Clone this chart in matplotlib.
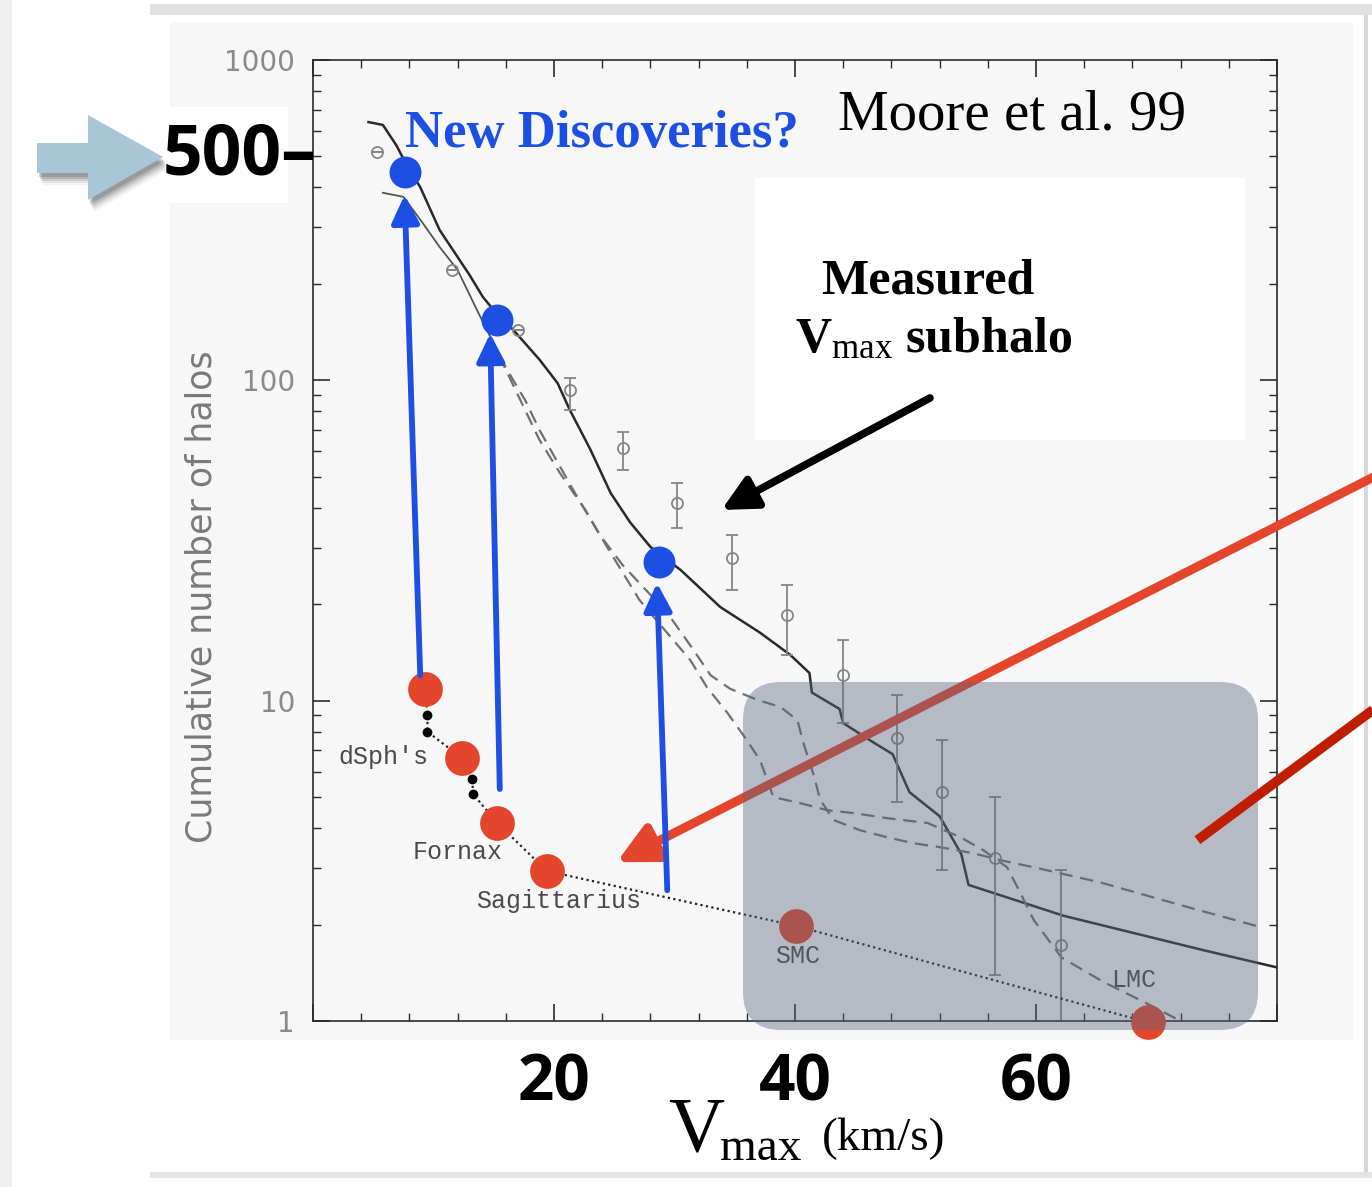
import matplotlib
matplotlib.use("Agg")
import matplotlib.pyplot as plt
from matplotlib.patches import FancyBboxPatch, Rectangle, Polygon
from matplotlib.transforms import IdentityTransform, blended_transform_factory
from matplotlib.ticker import MultipleLocator, FixedLocator, NullFormatter, LogLocator

# values (Vmax in km/s, cumulative number of halos)
# cluster halo curve (solid)
clus_v = [4.6, 5.8, 6.9, 8.0, 8.9, 10.5, 13.0, 14.1, 15.5, 16.6, 18.8, 20.3, 21.3, 23.0, 24.7,
          26.3, 28.0, 30.5, 33.8, 37.1, 39.6, 41.2, 41.4, 43.7, 44.0, 46.6, 48.1, 49.5, 52.0,
          53.8, 54.4, 62.3, 74.0, 80.0]
clus_n = [640, 627, 543, 453, 401, 295, 213, 182, 157, 144, 116, 98, 81, 61, 44.5,
          36.1, 30.2, 25.6, 19.6, 16.3, 13.9, 12.2, 10.6, 9.42, 8.51, 7.37, 6.81, 5.18, 4.36,
          3.32, 2.66, 2.13, 1.66, 1.47]

# galaxy halos: common top part, then two dashed runs
gal_top_v = [5.8, 7.5, 9.1, 10.5, 12.0, 13.6, 14.7]
gal_top_n = [385, 374, 310, 261, 221, 166, 137]

gal1_v = [14.7, 16.1, 17.6, 18.8, 21.6, 23.8, 25.7, 28.0, 29.4, 31.3, 33.0, 34.6, 36.9, 38.8,
          40.2, 40.7, 41.5, 42.1, 43.2, 45.4, 47.6, 49.8, 52.0, 54.8, 57.0, 59.8, 65.3, 72.0, 78.3]
gal1_n = [137, 108, 86.8, 69.9, 45.4, 32.9, 26.5, 21.4, 18.8, 14.9, 12.0, 10.9, 10.05, 9.55,
          8.70, 7.37, 5.94, 4.90, 4.24, 3.94, 3.75, 3.59, 3.49, 3.34, 3.18, 3.02, 2.71, 2.30, 1.98]

gal2_v = [14.7, 16.1, 17.6, 18.8, 20.5, 22.6, 24.4, 27.1, 29.2, 31.3, 32.7, 34.4, 36.0, 37.1,
          37.7, 38.2, 40.4, 42.7, 44.8, 47.6, 51.0, 53.7, 55.6, 57.6, 58.7, 59.8, 62.1, 65.5,
          69.5, 72.0]
gal2_n = [137, 106, 80.8, 65.1, 51.3, 39.4, 30.2, 20.6, 16.6, 13.4, 11.0, 9.15, 7.53, 6.52,
          5.65, 5.00, 4.79, 4.55, 4.46, 4.30, 4.15, 3.75, 3.42, 3.02, 2.51, 2.07, 1.58, 1.33,
          1.12, 1.00]

# observed points with error bars
obs_v = [5.3, 11.5, 17.0, 21.3, 25.7, 30.2, 34.8, 39.3, 44.0, 48.5, 52.2, 56.6, 62.1]
obs_n = [516, 221, 144, 93.3, 61.5, 41.4, 27.9, 18.5, 12.0, 7.64, 5.19, 3.23, 1.73]
obs_hi = [516, 221, 144, 101.6, 69.0, 47.8, 32.9, 23.0, 15.5, 10.4, 7.53, 5.0, 2.96]
obs_lo = [516, 221, 144, 80.7, 52.5, 34.6, 22.2, 13.9, 8.5, 4.82, 2.96, 1.39, 0.9]

# Milky Way satellites
sat_v = [9.3, 9.5, 9.5, 12.4, 13.2, 13.3, 15.3, 19.4, 40.1, 69.3]
sat_n = [10.9, 9.0, 8.0, 6.6, 5.7, 5.1, 4.15, 2.94, 1.98, 0.99]
sat_big = [True, False, False, True, False, False, True, True, True, True]

sat_names = ["dSph's", "Fornax", "Sagittarius", "SMC", "LMC"]
name_v = [5.8, 12.0, 20.4, 40.2, 68.1]
name_n = [6.67, 3.37, 2.37, 1.59, 1.34]

# "new discoveries" points and the arrows pointing to them
new_v = [7.6, 15.3, 28.7]
new_n = [447, 154, 27.1]
tail_v = [8.9, 15.5, 29.4]
tail_n = [12.0, 5.3, 2.56]
tip_v = [7.6, 14.7, 28.55]
tip_n = [379, 140, 23.3]

# other annotation arrows (data coords)
black_arrow = [(51.2, 88.1), (33.9, 39.4)]
red_arrow = [(88.5, 51.0), (25.2, 3.13)]
red_line = [(88.5, 9.69), (73.4, 3.67)]

W, H = 1372, 1187
blue = "#1d4fe3"
red = "#e4452d"


def pix(x, y):
    return (x, H - y)


def fx(x):
    return x / W


def fy(y):
    return 1 - y / H


plt.rcParams['mathtext.fontset'] = 'custom'
plt.rcParams['mathtext.rm'] = 'Liberation Serif'
plt.rcParams['mathtext.bf'] = 'Liberation Serif:bold'
plt.rcParams['mathtext.it'] = 'Liberation Serif:italic'

fig = plt.figure(figsize=(W / 100, H / 100), dpi=100, facecolor='white')

# slide background pieces
idt = IdentityTransform()
bg = [((0, 0), 12, H, '#efeeec'),
      ((150, 4), W - 150, 11, '#e0e0e0'),
      ((170, 22), 1183, 1018, '#f7f7f7'),
      ((1364, 15), 4, 1160, '#d8d8d8'),
      ((150, 1172), W - 150, 6, '#e4e4e4'),
      ((153, 107), 135, 96, 'white')]
for (x0, y0), w, h, c in bg:
    fig.add_artist(Rectangle(pix(x0, y0 + h), w, h, transform=idt, facecolor=c,
                             edgecolor='none', zorder=-5))

# light blue pointer arrow with shadow
arrow_pts = [(37, 143), (88, 143), (88, 115), (163, 157), (88, 200), (88, 173), (37, 173)]
for k, a in [(12, 0.06), (10, 0.08), (8, 0.12), (6, 0.16), (4, 0.2)]:
    fig.add_artist(Polygon([pix(x + k * 0.5, y + k) for x, y in arrow_pts], closed=True,
                           transform=idt, facecolor='#333333', alpha=a, edgecolor='none',
                           zorder=-3))
fig.add_artist(Polygon([pix(x, y) for x, y in arrow_pts], closed=True, transform=idt,
                       facecolor='#a9c5d8', edgecolor='none', zorder=-2))

ax = fig.add_axes([313 / W, 1 - 1021 / H, (1277 - 313) / W, (1021 - 60) / H])
ax.set_facecolor('#f7f7f7')
ax.set_yscale('log')
ax.set_xlim(0, 80)
ax.set_ylim(1, 1000)

# white box behind the "Measured" note
ax.add_patch(Rectangle(pix(755, 440), 490, 262, transform=idt, facecolor='white',
                       edgecolor='none', zorder=0.5))

ax.plot(clus_v, clus_n, color='#2a2a2a', lw=1.8, zorder=2)
ax.plot(gal_top_v, gal_top_n, color='#555555', lw=1.3, zorder=2)
ax.plot(gal1_v, gal1_n, color='#707070', lw=1.6, dashes=(6, 3.5), zorder=2)
ax.plot(gal2_v, gal2_n, color='#707070', lw=1.6, dashes=(6, 3.5), zorder=2)

yerr = [[n - lo for n, lo in zip(obs_n, obs_lo)], [hi - n for n, hi in zip(obs_n, obs_hi)]]
ax.errorbar(obs_v, obs_n, yerr=yerr, fmt='o', ms=8, mfc='none', mec='#858585', mew=1.3,
            ecolor='#858585', elinewidth=1.3, capsize=4, capthick=1.3, zorder=2)

# satellites
ax.plot(sat_v, sat_n, color='#222222', lw=1.6, ls=(0, (1, 1.5)), zorder=3, clip_on=False)
big_v = [v for v, b in zip(sat_v, sat_big) if b]
big_n = [n for n, b in zip(sat_n, sat_big) if b]
small_v = [v for v, b in zip(sat_v, sat_big) if not b]
small_n = [n for n, b in zip(sat_n, sat_big) if not b]
ax.plot(small_v, small_n, 'o', color='black', ms=6, zorder=3)
ax.plot(big_v, big_n, 'o', color=red, ms=25, mec='none', zorder=3, clip_on=False)
for name, v, n in zip(sat_names, name_v, name_n):
    ax.text(v, n, name, fontsize=18, family='Liberation Mono', color='#4a4a4a',
            ha='center', va='center', zorder=3)

# red arrow (under the box)
ax.annotate('', xy=red_arrow[1], xytext=red_arrow[0],
            arrowprops=dict(arrowstyle='-|>', color=red, lw=6.5, mutation_scale=60,
                            shrinkA=0, shrinkB=0),
            annotation_clip=False, zorder=4)

# gray highlight box
ax.add_patch(FancyBboxPatch(pix(743, 1030), 515, 348,
                            boxstyle='round,pad=0,rounding_size=38', transform=idt,
                            facecolor='#5a6780', alpha=0.42, edgecolor='none',
                            zorder=6, clip_on=False))

ax.plot([p[0] for p in red_line], [p[1] for p in red_line], color='#c01d05', lw=7,
        solid_capstyle='butt', zorder=7, clip_on=False)

# blue arrows and points
for tv, tn, hv, hn in zip(tail_v, tail_n, tip_v, tip_n):
    ax.annotate('', xy=(hv, hn), xytext=(tv, tn),
                arrowprops=dict(arrowstyle='-|>', color=blue, lw=4.2, mutation_scale=42,
                                shrinkA=0, shrinkB=0),
                zorder=7)
ax.plot(new_v, new_n, 'o', color=blue, ms=23, mec='none', zorder=8)

ax.annotate('', xy=black_arrow[1], xytext=black_arrow[0],
            arrowprops=dict(arrowstyle='-|>', color='black', lw=5.5, mutation_scale=52,
                            shrinkA=0, shrinkB=0),
            zorder=8)

# axes styling
for s in ax.spines.values():
    s.set_color('#2a2a2a')
    s.set_linewidth(1.2)
ax.xaxis.set_major_locator(FixedLocator([0, 20, 40, 60, 80]))
ax.set_xticklabels(['', '20', '40', '60', ''])
ax.xaxis.set_minor_locator(MultipleLocator(4))
ax.set_yticks([1, 10, 100, 1000])
ax.set_yticklabels(['1', '10', '100', '1000'])
ax.yaxis.set_minor_locator(LogLocator(base=10, subs=range(2, 10)))
ax.yaxis.set_minor_formatter(NullFormatter())
ax.tick_params(which='both', direction='in', top=True, right=True, color='#2a2a2a')
ax.tick_params(which='major', length=12, width=1.2)
ax.tick_params(which='minor', length=6, width=1.0)
ax.tick_params(axis='x', pad=22, labelsize=46)
ax.tick_params(axis='y', pad=13, labelsize=20, labelcolor='#8a8a8a')
for t in ax.get_xticklabels():
    t.set_family('Open Sans')
    t.set_weight('bold')

ax.set_ylabel('Cumulative number of halos', fontsize=25, color='#7a7a7a')
ax.yaxis.set_label_coords(-0.0985, 0.442)

# big "500" marker on the y axis
ax.text(0.004, 500, '500\u2013', transform=blended_transform_factory(ax.transAxes, ax.transData),
        fontsize=50, family='Open Sans', weight='bold', ha='right', va='center',
        clip_on=False, zorder=9)

# annotations
fig.text(fx(405), fy(147), 'New Discoveries?', fontsize=38, family='Liberation Serif',
         weight='bold', color=blue, va='baseline')
fig.text(fx(838), fy(130), 'Moore et al. 99', fontsize=41, family='Liberation Serif',
         va='baseline')
fig.text(fx(928), fy(293), 'Measured', fontsize=36, family='Liberation Serif',
         weight='bold', ha='center', va='baseline')
fig.text(fx(934), fy(352), r'$\mathbf{V}_{\mathrm{max}}$ subhalo', fontsize=36,
         family='Liberation Serif', weight='bold', ha='center', va='baseline')

# x axis title
fig.text(fx(668), fy(1150), 'V', fontsize=56, family='Liberation Serif', va='baseline')
fig.text(fx(720), fy(1160), 'max', fontsize=34, family='Liberation Serif', va='baseline')
fig.text(fx(822), fy(1150), '(km/s)', fontsize=34, family='Liberation Serif', va='baseline')

fig.savefig('out.png', dpi=100)
